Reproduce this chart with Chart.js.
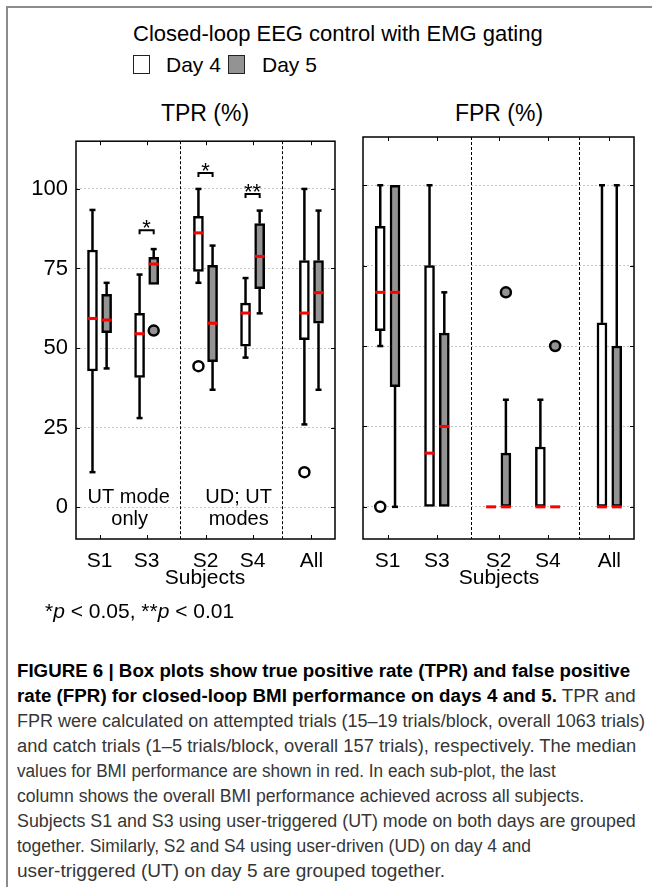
<!DOCTYPE html>
<html>
<head>
<meta charset="utf-8">
<script src="https://cdn.jsdelivr.net/npm/chart.js@4.4.1/dist/chart.umd.min.js"></script>
<style>
  body { margin: 0; width: 652px; height: 887px; background: #fff; position: relative; overflow: hidden;
         font-family: "Liberation Sans", Arial, sans-serif; color: #000; }
  .frame { position: absolute; left: 6px; top: 6px; width: 700px; height: 900px;
           border-left: 2px solid #8c8c8c; border-top: 2px solid #8c8c8c; }
  .t { position: absolute; white-space: nowrap; line-height: 1; }
  .c { text-align: center; }
  .sw { position: absolute; box-sizing: border-box; border: 1px solid #222; width: 17px; height: 19px; top: 55px; }
  canvas { position: absolute; }
  .cap { position: absolute; left: 17px; white-space: nowrap; line-height: 1; font-size: 18px; color: #363636;
         transform-origin: 0 0; }
  .cap b { color: #000; }
</style>
</head>
<body>
<div class="frame"></div>

<div class="t" style="left:133px; top:23px; font-size:22px">Closed-loop EEG control with EMG gating</div>
<div class="sw" style="left:133px; background:#fff"></div>
<div class="t" style="left:166px; top:54px; font-size:21px">Day 4</div>
<div class="sw" style="left:228px; background:#939393"></div>
<div class="t" style="left:262px; top:54px; font-size:21px">Day 5</div>

<div class="t c" style="left:105px; width:200px; top:102px; font-size:23px">TPR (%)</div>
<div class="t c" style="left:399px; width:200px; top:102px; font-size:23px">FPR (%)</div>

<canvas id="tpr" width="345" height="480" style="left:0; top:120px"></canvas>
<canvas id="fpr" width="300" height="480" style="left:345px; top:120px"></canvas>

<div class="t c" style="left:105px; width:200px; top:566px; font-size:21px">Subjects</div>
<div class="t c" style="left:399px; width:200px; top:566px; font-size:21px">Subjects</div>
<div class="t" style="left:45px; top:600px; font-size:21px">*<i>p</i> &lt; 0.05, **<i>p</i> &lt; 0.01</div>

<div id="caption"></div>

<script>
const categories = ['S1', 'S3', 'S2', 'S4', 'All'];
const catPos = [1, 2, 3.25, 4.25, 5.5];
const groupSplits = [2.7, 4.875];
const yTicks = [0, 25, 50, 75, 100];

// TPR (%), day 4
const tprDay4Min = [11, 28, 70.5, 47, 26];
const tprDay4Q1 = [42.8, 40.8, 74.1, 50.6, 52.6];
const tprDay4Med = [59.3, 54.5, 86.2, 61, 61];
const tprDay4Q3 = [80.8, 60.9, 91.4, 64.1, 77.5];
const tprDay4Max = [93.4, 73.1, 100, 72, 100];
const tprDay4Outliers = [[2, 44.3], [4, 11]]; // [category index, value]
// TPR (%), day 5
const tprDay5Min = [43.6, 70, 36.9, 60.9, 36.9];
const tprDay5Q1 = [54.8, 70, 45.7, 68.7, 57.8];
const tprDay5Med = [58.8, 76.4, 57.8, 78.8, 67.4];
const tprDay5Q3 = [66.9, 78.5, 76, 89.1, 77.5];
const tprDay5Max = [70.5, 81.1, 82.2, 93.2, 93.2];
const tprDay5Outliers = [[1, 55.5]];

// FPR (%), day 4
const fprDay4Min = [50, 0, 0, 0, 0];
const fprDay4Q1 = [54.8, 0, 0, 0, 0];
const fprDay4Med = [66.7, 16.7, 0, 0, 0];
const fprDay4Q3 = [87.2, 75, 0, 18.6, 57.2];
const fprDay4Max = [100, 100, 0, 33.3, 100];
const fprDay4Outliers = [[0, 0]];
// FPR (%), day 5
const fprDay5Min = [0, 0, 0, 0, 0];
const fprDay5Q1 = [37.4, 0, 0, 0, 0];
const fprDay5Med = [66.7, 25, 0, 0, 0];
const fprDay5Q3 = [100, 54, 16.7, 0, 50];
const fprDay5Max = [100, 66.7, 33.3, 0, 100];
const fprDay5Outliers = [[2, 66.7], [3, 50]];

// significance between days: [category index, bracket level, mark]
const tprSig = [[1, 87, '*'], [2, 105, '*'], [3, 98.4, '**']];

const captionLines = [
  '<b>FIGURE 6 | Box plots show true positive rate (TPR) and false positive</b>',
  '<b>rate (FPR) for closed-loop BMI performance on days 4 and 5.</b> TPR and',
  'FPR were calculated on attempted trials (15–19 trials/block, overall 1063 trials)',
  'and catch trials (1–5 trials/block, overall 157 trials), respectively. The median',
  'values for BMI performance are shown in red. In each sub-plot, the last',
  'column shows the overall BMI performance achieved across all subjects.',
  'Subjects S1 and S3 using user-triggered (UT) mode on both days are grouped',
  'together. Similarly, S2 and S4 using user-driven (UD) on day 4 and',
  'user-triggered (UT) on day 5 are grouped together.'
];
// right edge of each caption line in the figure (layout only)
const captionEnds = [630, 636, 645, 636, 556, 584, 636, 531, 445];

Chart.defaults.font.family = '"Liberation Sans", Arial, sans-serif';
Chart.defaults.color = '#000';

const DAY4 = '#ffffff';
const DAY5 = '#939393';
const off = 0.15;

function boxPlugin(stats, sig, notes) {
  return {
    id: 'boxExtras',
    beforeDatasetsDraw(chart) {
      const { ctx, chartArea: a, scales: { x, y } } = chart;
      ctx.save();
      ctx.strokeStyle = '#000';
      ctx.lineWidth = 1;
      ctx.setLineDash([3, 2]);
      groupSplits.forEach(v => {
        const px = Math.round(x.getPixelForValue(v)) + 0.5;
        ctx.beginPath(); ctx.moveTo(px, a.top); ctx.lineTo(px, a.bottom); ctx.stroke();
      });
      ctx.setLineDash([]);
      ctx.lineWidth = 2.5;
      stats.forEach(s => {
        catPos.forEach((c, i) => {
          const px = x.getPixelForValue(c + s.off);
          const whisker = (from, to) => {
            if (from === to) return;
            const p2 = y.getPixelForValue(to);
            ctx.beginPath(); ctx.moveTo(px, y.getPixelForValue(from)); ctx.lineTo(px, p2); ctx.stroke();
            ctx.beginPath(); ctx.moveTo(px - 3, p2); ctx.lineTo(px + 3, p2); ctx.stroke();
          };
          whisker(s.q3[i], s.max[i]);
          whisker(s.q1[i], s.min[i]);
        });
      });
      ctx.restore();
    },
    afterDatasetsDraw(chart) {
      const { ctx, chartArea: a, scales: { x, y } } = chart;
      ctx.save();
      // medians
      ctx.fillStyle = '#ff0000';
      stats.forEach(s => {
        catPos.forEach((c, i) => {
          const px = x.getPixelForValue(c + s.off);
          ctx.fillRect(px - 5, y.getPixelForValue(s.med[i]) - 1.5, 10, 3);
        });
      });
      // frame and inward ticks
      ctx.strokeStyle = '#000';
      ctx.lineWidth = 1.5;
      ctx.strokeRect(a.left, a.top, a.right - a.left, a.bottom - a.top);
      ctx.lineWidth = 1;
      ctx.beginPath();
      catPos.forEach(c => {
        const px = Math.round(x.getPixelForValue(c)) + 0.5;
        ctx.moveTo(px, a.top); ctx.lineTo(px, a.top + 4);
        ctx.moveTo(px, a.bottom); ctx.lineTo(px, a.bottom - 4);
      });
      yTicks.forEach(v => {
        const py = Math.round(y.getPixelForValue(v)) + 0.5;
        ctx.moveTo(a.left, py); ctx.lineTo(a.left + 4, py);
        ctx.moveTo(a.right, py); ctx.lineTo(a.right - 4, py);
      });
      ctx.stroke();
      // significance brackets
      ctx.lineWidth = 2;
      ctx.fillStyle = '#000';
      ctx.textAlign = 'center';
      ctx.textBaseline = 'alphabetic';
      ctx.font = '22px "Liberation Sans", Arial, sans-serif';
      sig.forEach(([ci, level, mark]) => {
        const xl = x.getPixelForValue(catPos[ci] - off);
        const xr = x.getPixelForValue(catPos[ci] + off);
        const py = y.getPixelForValue(level);
        ctx.beginPath();
        ctx.moveTo(xl, py + 4); ctx.lineTo(xl, py); ctx.lineTo(xr, py); ctx.lineTo(xr, py + 4);
        ctx.stroke();
        ctx.fillText(mark, (xl + xr) / 2, py + 5);
      });
      // group notes
      ctx.font = '20px "Liberation Sans", Arial, sans-serif';
      notes.forEach(([txt, xv, yv]) => {
        ctx.fillText(txt, x.getPixelForValue(xv), y.getPixelForValue(yv));
      });
      ctx.restore();
    }
  };
}

function makePanel(id, d4, d5, out4, out5, opts) {
  const stats = [
    { off: -off, min: d4.min, q1: d4.q1, med: d4.med, q3: d4.q3, max: d4.max },
    { off: off, min: d5.min, q1: d5.q1, med: d5.med, q3: d5.q3, max: d5.max }
  ];
  const boxes = (d, o) => catPos.map((c, i) => ({ x: c + o, y: [d.q1[i], d.q3[i]] }));
  const outs = (list, o) => list.map(([ci, v]) => ({ x: catPos[ci] + o, y: v }));
  return new Chart(document.getElementById(id), {
    type: 'bar',
    data: {
      datasets: [
        { label: 'Day 4', data: boxes(d4, -off), backgroundColor: DAY4, borderColor: '#000',
          borderWidth: 2.5, borderSkipped: false, barThickness: 10, grouped: false },
        { label: 'Day 5', data: boxes(d5, off), backgroundColor: DAY5, borderColor: '#000',
          borderWidth: 2.5, borderSkipped: false, barThickness: 10, grouped: false },
        { type: 'scatter', data: outs(out4, -off), backgroundColor: DAY4, borderColor: '#000',
          borderWidth: 2.5, pointRadius: 5 },
        { type: 'scatter', data: outs(out5, off), backgroundColor: DAY5, borderColor: '#000',
          borderWidth: 2.5, pointRadius: 5 }
      ]
    },
    options: {
      responsive: false,
      animation: false,
      devicePixelRatio: 1,
      layout: { padding: { top: 17, right: opts.padRight, left: 0, bottom: 0 } },
      plugins: { legend: { display: false }, tooltip: { enabled: false } },
      scales: {
        x: {
          type: 'linear', min: 0.5, max: 6, offset: false,
          grid: { display: false, drawTicks: false },
          border: { display: false },
          afterBuildTicks: s => { s.ticks = catPos.map(v => ({ value: v })); },
          afterFit: s => { s.height = 61; },
          ticks: { callback: v => categories[catPos.indexOf(v)], font: { size: 21 }, padding: 10,
                   autoSkip: false, maxRotation: 0 }
        },
        y: {
          min: -10, max: 115,
          grid: { color: '#c4c4c4', lineWidth: 1, drawTicks: false },
          border: { display: false, dash: [2, 2] },
          afterBuildTicks: s => { s.ticks = yTicks.map(v => ({ value: v })); },
          afterFit: s => { s.width = opts.axisWidth; },
          ticks: { display: opts.showY, font: { size: 22 }, padding: 8 }
        }
      }
    },
    plugins: [boxPlugin(stats, opts.sig, opts.notes)]
  });
}

makePanel('tpr',
  { min: tprDay4Min, q1: tprDay4Q1, med: tprDay4Med, q3: tprDay4Q3, max: tprDay4Max },
  { min: tprDay5Min, q1: tprDay5Q1, med: tprDay5Med, q3: tprDay5Q3, max: tprDay5Max },
  tprDay4Outliers, tprDay5Outliers,
  { axisWidth: 76, padRight: 10, showY: true, sig: tprSig,
    notes: [['UT mode', 1.62, 1.4], ['only', 1.64, -5.5], ['UD; UT', 3.955, 1.4], ['modes', 3.955, -5.5]] });

makePanel('fpr',
  { min: fprDay4Min, q1: fprDay4Q1, med: fprDay4Med, q3: fprDay4Q3, max: fprDay4Max },
  { min: fprDay5Min, q1: fprDay5Q1, med: fprDay5Med, q3: fprDay5Q3, max: fprDay5Max },
  fprDay4Outliers, fprDay5Outliers,
  { axisWidth: 18, padRight: 11, showY: false, sig: [], notes: [] });

// caption, one positioned line per row as in the figure, squeezed to the figure's line widths
const cap = document.getElementById('caption');
captionLines.forEach((html, i) => {
  const d = document.createElement('div');
  d.className = 'cap';
  d.style.top = (677 + 25 * i - 15.2) + 'px';
  d.innerHTML = html;
  cap.appendChild(d);
  const k = (captionEnds[i] - 17) / d.getBoundingClientRect().width;
  d.style.transform = 'scaleX(' + k.toFixed(3) + ')';
});
</script>
</body>
</html>
